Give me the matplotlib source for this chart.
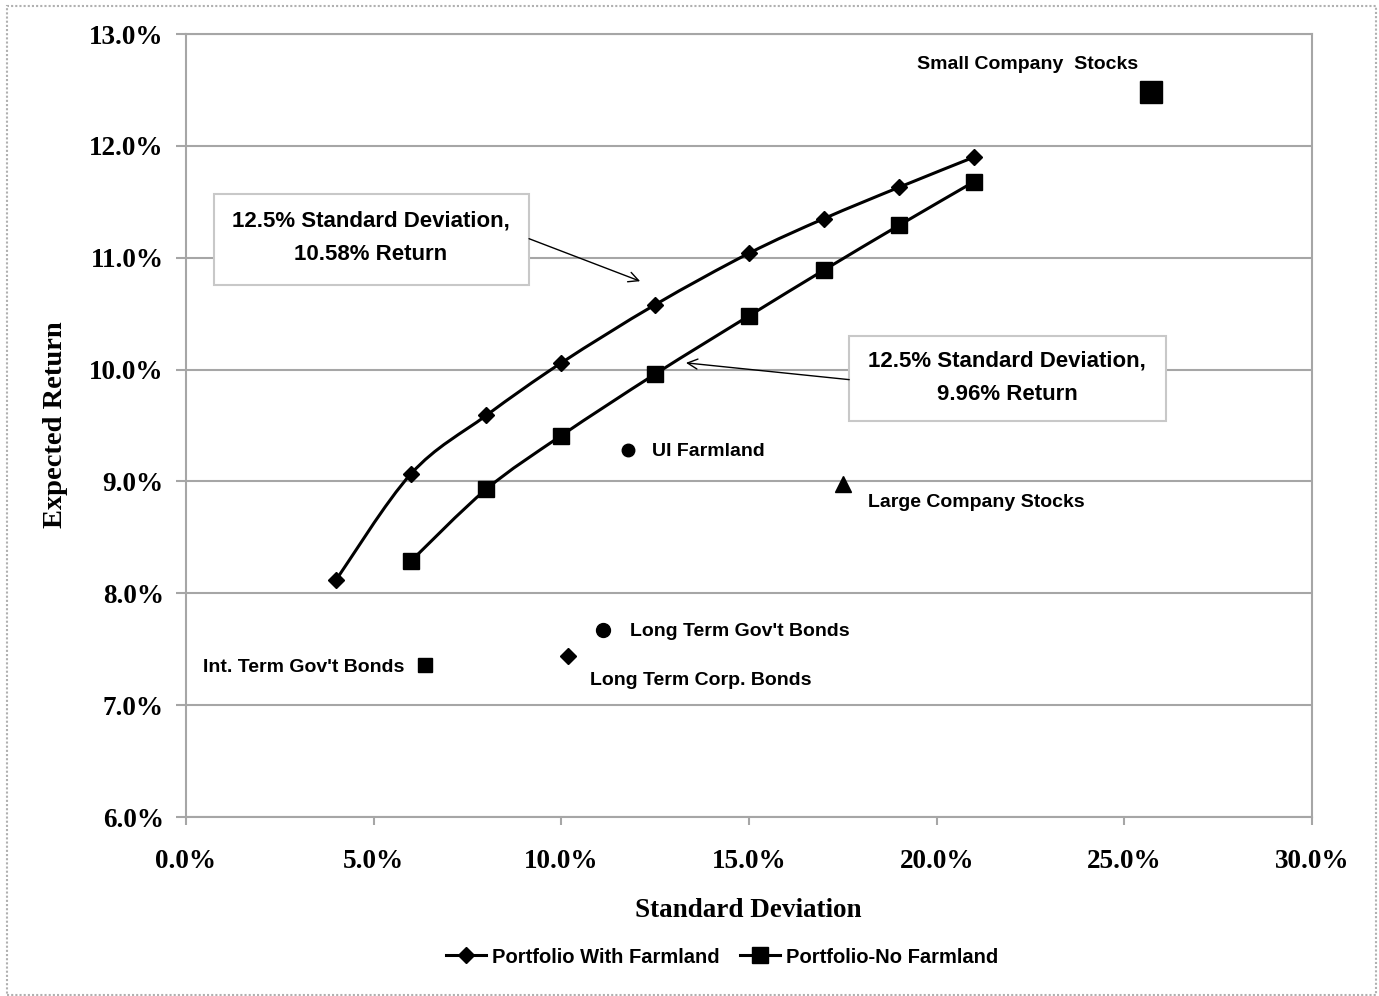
import numpy as np
import matplotlib
matplotlib.use('Agg')
import matplotlib.pyplot as plt
from matplotlib.path import Path
from matplotlib.patches import PathPatch, Rectangle
from matplotlib.lines import Line2D

# portfolio frontiers (std dev %, expected return %)
with_sd = [4.0, 6.0, 8.0, 10.0, 12.5, 15.0, 17.0, 19.0, 21.0]
with_ret = [8.12, 9.07, 9.59, 10.06, 10.58, 11.04, 11.35, 11.63, 11.90]
no_sd = [6.0, 8.0, 10.0, 12.5, 15.0, 17.0, 19.0, 21.0]
no_ret = [8.29, 8.93, 9.41, 9.96, 10.48, 10.89, 11.29, 11.68]

# single assets
asset_names = ["Small Company  Stocks", "UI Farmland", "Large Company Stocks",
               "Long Term Gov't Bonds", "Long Term Corp. Bonds", "Int. Term Gov't Bonds"]
asset_sd = [25.71, 11.78, 17.51, 11.11, 10.18, 6.37]
asset_ret = [12.48, 9.28, 8.98, 7.67, 7.44, 7.36]
asset_marker = ['s', 'o', '^', 'o', 'D', 's']
asset_msize = [16, 9, 12, 10, 8, 10]
# label offsets in pixels and alignment
asset_off = [(-13, 28), (24, -1), (25, -19), (27, -1), (22, -25), (-21, -3)]
asset_ha = ['right', 'left', 'left', 'left', 'left', 'right']

SANS = ['Liberation Sans', 'DejaVu Sans']
SERIF = ['Liberation Serif', 'DejaVu Serif']


def smooth_path(xs, ys):
    # catmull-rom style smoothing like excel's smoothed line
    p = np.column_stack([xs, ys])
    n = len(p)
    verts = [p[0]]
    codes = [Path.MOVETO]
    for i in range(n - 1):
        p0 = p[i - 1] if i > 0 else p[i]
        p1 = p[i]
        p2 = p[i + 1]
        p3 = p[i + 2] if i + 2 < n else p[i + 1]
        c1 = p1 + (p2 - p0) / 6.0
        c2 = p2 - (p3 - p1) / 6.0
        verts += [c1, c2, p2]
        codes += [Path.CURVE4] * 3
    return Path(verts, codes)


fig = plt.figure(figsize=(13.79, 9.96), dpi=100)
ax = fig.add_axes([186 / 1379, 1 - 817 / 996, (1312 - 186) / 1379, (817 - 34) / 996])

grey = '#a6a6a6'
ax.set_xlim(0, 30)
ax.set_ylim(6, 13)
ax.set_xticks(np.arange(0, 31, 5))
ax.set_yticks(np.arange(6, 14, 1))
ax.set_xticklabels(['%.1f%%' % v for v in np.arange(0, 31, 5)])
ax.set_yticklabels(['%.1f%%' % v for v in np.arange(6, 14, 1)])
for lab in ax.get_xticklabels() + ax.get_yticklabels():
    lab.set_fontfamily(SERIF)
    lab.set_fontweight('bold')
    lab.set_fontsize(19.5)
ax.tick_params(axis='both', color=grey, width=1.5, direction='out')
ax.tick_params(axis='y', length=7, pad=9)
ax.tick_params(axis='x', length=6, pad=17)
ax.grid(axis='y', color=grey, linewidth=1.5)
ax.set_axisbelow(True)
for sp in ax.spines.values():
    sp.set_color(grey)
    sp.set_linewidth(1.5)

# frontier curves
ax.add_patch(PathPatch(smooth_path(with_sd, with_ret), fill=False, edgecolor='black', lw=2.2, zorder=3))
ax.add_patch(PathPatch(smooth_path(no_sd, no_ret), fill=False, edgecolor='black', lw=2.2, zorder=3))
ax.plot(with_sd, with_ret, linestyle='none', marker='D', markersize=8, color='black', zorder=4)
ax.plot(no_sd, no_ret, linestyle='none', marker='s', markersize=12, color='black', zorder=4)

# single assets
for name, sx, sy, m, ms, off, ha in zip(asset_names, asset_sd, asset_ret, asset_marker,
                                         asset_msize, asset_off, asset_ha):
    ax.plot([sx], [sy], linestyle='none', marker=m, markersize=ms, color='black', zorder=4)
    ax.annotate(name, (sx, sy), xytext=off, textcoords='offset pixels', ha=ha, va='center',
                fontfamily=SANS, fontweight='bold', fontsize=14)

# callout boxes
ax.add_patch(Rectangle((0.746, 10.756), 9.14 - 0.746, 11.570 - 10.756, facecolor='white',
                       edgecolor='#c8c8c8', lw=1.5, zorder=5))
ax.text(4.93, 11.18, "12.5% Standard Deviation,\n10.58% Return", ha='center', va='center',
        fontfamily=SANS, fontweight='bold', fontsize=16, linespacing=1.8, zorder=6)
ax.annotate('', xy=(12.10, 10.79), xytext=(9.14, 11.17),
            arrowprops=dict(arrowstyle='->', color='black', lw=1.0, shrinkA=0, shrinkB=0,
                            mutation_scale=18), zorder=6)

ax.add_patch(Rectangle((17.67, 9.54), 26.11 - 17.67, 10.30 - 9.54, facecolor='white',
                       edgecolor='#c8c8c8', lw=1.5, zorder=5))
ax.text(21.88, 9.925, "12.5% Standard Deviation,\n9.96% Return", ha='center', va='center',
        fontfamily=SANS, fontweight='bold', fontsize=16, linespacing=1.8, zorder=6)
ax.annotate('', xy=(13.32, 10.06), xytext=(17.67, 9.91),
            arrowprops=dict(arrowstyle='->', color='black', lw=1.0, shrinkA=0, shrinkB=0,
                            mutation_scale=18), zorder=6)

# axis titles
fig.text(748 / 1379, 1 - 910 / 996, 'Standard Deviation', ha='center', va='center',
         fontfamily=SERIF, fontweight='bold', fontsize=19.5)
fig.text(55 / 1379, 1 - 425 / 996, 'Expected Return', ha='center', va='center', rotation=90,
         fontfamily=SERIF, fontweight='bold', fontsize=20.5)

# legend
handles = [Line2D([], [], color='black', lw=2.2, marker='D', markersize=8),
           Line2D([], [], color='black', lw=2.2, marker='s', markersize=11)]
fig.legend(handles, ['Portfolio With Farmland', 'Portfolio-No Farmland'], loc='center',
           bbox_to_anchor=(722 / 1379, 1 - 957 / 996), ncol=2, frameon=False,
           prop=dict(family=SANS, weight='bold', size=14.5), handlelength=2.0,
           handletextpad=0.3, columnspacing=1.0)

# dotted chart border
fig.patches.append(Rectangle((7 / 1379, 1 / 996), 1369 / 1379, 989 / 996, transform=fig.transFigure,
                             fill=False, edgecolor='#b0b0b0', lw=1.5, linestyle=(0, (1, 1))))

fig.savefig('out.png', dpi=100)
